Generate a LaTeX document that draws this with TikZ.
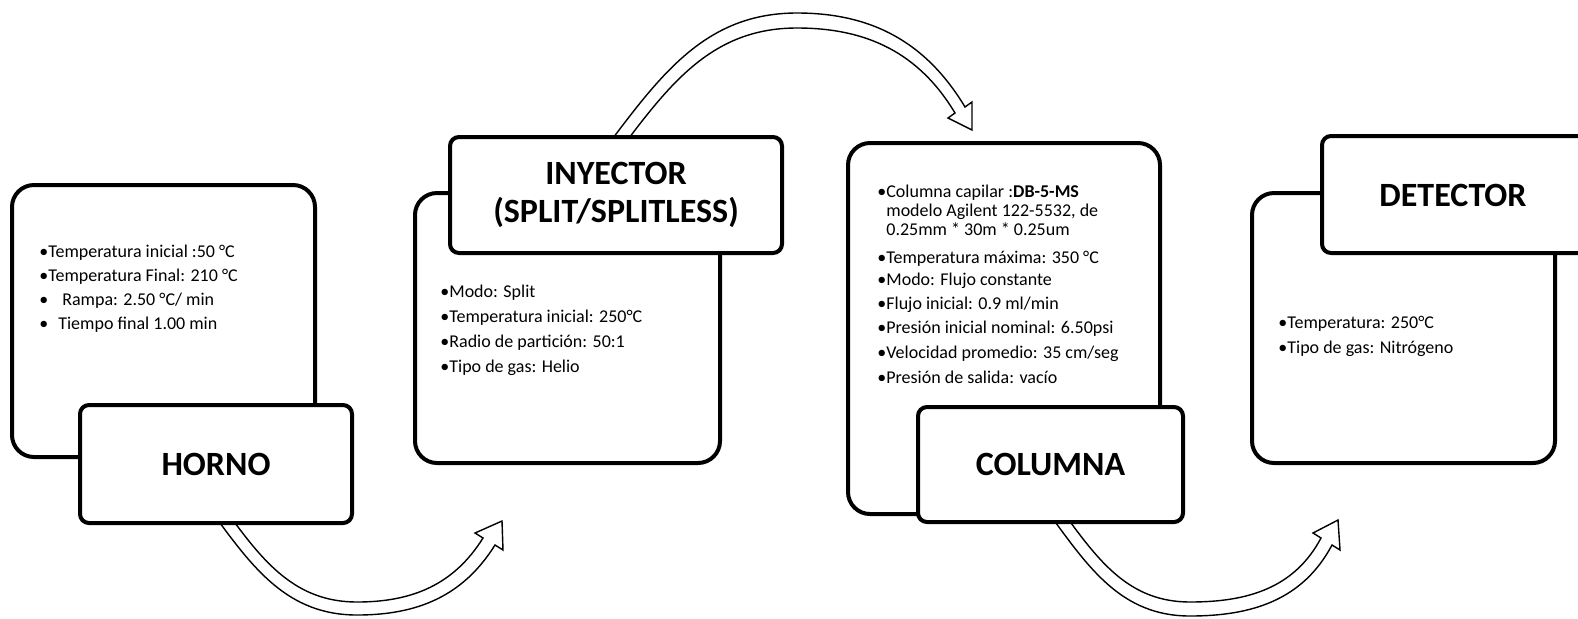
\documentclass[tikz,border=0pt]{standalone}
\usepackage{fontspec}
\setmainfont{Carlito}
\tikzset{
  bigbox/.style={draw, line width=2pt, rounded corners=11pt, fill=white, inner sep=0pt},
  labelbox/.style={draw, line width=2pt, rounded corners=4.5pt, fill=white, inner sep=0pt,
    align=center, font=\fontsize{17}{19}\selectfont\bfseries},
  bullets/.style={anchor=north west, align=left, inner sep=0pt, font=\fontsize{9}{12}\selectfont},
  blockarrow/.style={draw=black, line width=0.7pt, fill=white, line join=miter},
}
\begin{document}
\begin{tikzpicture}[x=0.5pt,y=0.5pt]
\useasboundingbox (0,0) rectangle (1578,-618);
\fill[white] (0,0) rectangle (1578,-618);

% curved block arrows (drawn first, boxes cover their tails)
\coordinate (tip1) at (502,-521);
\coordinate (tip2) at (972,-130);
\coordinate (tip3) at (1338,-520);
\draw[blockarrow] (212,-512) to[out=-54,in=180] (357,-615) to[out=0,in=-122] (495,-545)
  -- (503,-550) -- (tip1) -- (475,-533) -- (483,-538)
  to[out=-122,in=0] (357,-602) to[out=180,in=-54] (227,-512) -- cycle;
\draw[blockarrow] (610,-142) to[out=53,in=180] (797,-13) to[out=0,in=121] (965,-107)
  -- (972,-102) -- (tip2) -- (948,-118) -- (955,-113)
  to[out=121,in=0] (797,-28) to[out=180,in=53] (626,-142) -- cycle;
\draw[blockarrow] (1048,-512) to[out=-54,in=180] (1190,-616) to[out=0,in=-118] (1332,-545)
  -- (1340,-550) -- (tip3) -- (1313,-533) -- (1321,-538)
  to[out=-118,in=0] (1190,-602) to[out=180,in=-54] (1063,-512) -- cycle;

% big boxes
\node[bigbox, minimum width=151.5pt, minimum height=136pt] (hornoB) at (163.5,-321) {};
\node[bigbox, minimum width=152.5pt, minimum height=135pt] (inyB) at (567.5,-328) {};
\node[bigbox, minimum width=156pt, minimum height=185.5pt] (colB) at (1004,-328.5) {};
\node[bigbox, minimum width=151.5pt, minimum height=135pt] (detB) at (1403.5,-328) {};

% label boxes
\node[labelbox, minimum width=136pt, minimum height=59pt] (hornoL) at (216,-464) {HORNO};
\node[labelbox, minimum width=166pt, minimum height=58pt] (inyL) at (616,-195) {INYECTOR\\(SPLIT/SPLITLESS)};
\node[labelbox, minimum width=132.5pt, minimum height=57.5pt] (colL) at (1050.5,-464.5) {COLUMNA};
\node[draw, line width=2pt, rounded corners=4.5pt, fill=white, minimum width=134pt, minimum height=58.5pt, inner sep=0pt] (detL) at (1456,-194.5) {};
\node[font=\fontsize{17}{19}\selectfont\bfseries] (detT) at (1453,-195) {DETECTOR};

% bullet texts
\node[bullets] (hornoT) at (39,-245) {%
\textbullet Temperatura inicial :50 °C\\
\textbullet Temperatura Final: 210 °C\\
\textbullet\hspace{7pt}Rampa: 2.50 °C/ min\\
\textbullet\hspace{5pt}Tiempo final 1.00 min};

\node[bullets, font=\fontsize{9}{12.5}\selectfont] (inyT) at (440,-285) {%
\textbullet Modo: Split\\
\textbullet Temperatura inicial: 250°C\\
\textbullet Radio de partición: 50:1\\
\textbullet Tipo de gas: Helio};

\node[bullets, font=\fontsize{9}{9.5}\selectfont] (colT) at (877,-185) {%
\textbullet Columna capilar :\textbf{DB-5-MS}\\
\phantom{\textbullet}modelo Agilent 122-5532, de\\
\phantom{\textbullet}0.25mm * 30m * 0.25um\\[4.5pt]
\textbullet Temperatura máxima: 350 °C\\[1.5pt]
\textbullet Modo: Flujo constante\\[2.5pt]
\textbullet Flujo inicial: 0.9 ml/min\\[2.5pt]
\textbullet Presión inicial nominal: 6.50psi\\[3pt]
\textbullet Velocidad promedio: 35 cm/seg\\[3pt]
\textbullet Presión de salida: vacío};

\node[bullets, font=\fontsize{9}{12.5}\selectfont] (detBul) at (1278,-316) {%
\textbullet Temperatura: 250°C\\
\textbullet Tipo de gas: Nitrógeno};
\end{tikzpicture}
\end{document}
